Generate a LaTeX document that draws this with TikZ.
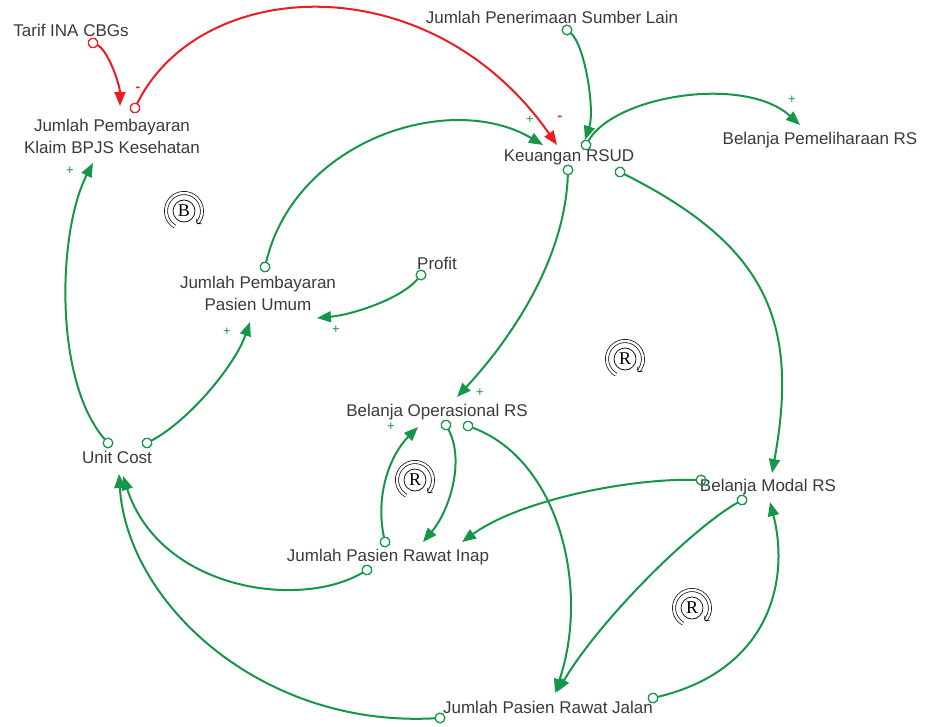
\documentclass[tikz,border=0pt]{standalone}
\usepackage{fontspec}
\setmainfont{Liberation Sans}
\newfontfamily\loopfont{Liberation Serif}
\usetikzlibrary{arrows.meta}

\definecolor{lgreen}{RGB}{22,150,72}
\definecolor{lred}{RGB}{236,28,36}
\definecolor{txt}{RGB}{58,58,62}

\tikzset{
  var/.style={font=\fontsize{17}{22}\selectfont, text=txt, inner sep=0pt, align=center},
  link/.style={line width=2pt, shorten <=-5.5pt,
    {Circle[open,length=11pt,width=11pt,line width=1.3pt]}-{Triangle[length=14pt,width=11pt]}},
  glink/.style={link, draw=lgreen},
  rlink/.style={link, draw=lred},
  polp/.style={font=\fontsize{13}{13}\selectfont, text=lgreen, inner sep=0pt},
  poln/.style={font=\bfseries\fontsize{14}{14}\selectfont, text=lred, inner sep=0pt},
  loopsign/.style={draw, circle, line width=0.7pt, inner sep=0pt, minimum size=22pt,
    font=\loopfont\fontsize{18}{18}\selectfont},
  looparc/.style={line width=0.7pt, double=white, double distance=2.4pt,
    -{Straight Barb[length=3pt,width=7pt]}}
}

\begin{document}
\begin{tikzpicture}[x=1pt,y=-1pt]
\useasboundingbox (0,0) rectangle (925,727);

% variables
\node[var] (tarif)  at (71,30)   {Tarif INA CBGs};
\node[var] (pen)    at (552,17)  {Jumlah Penerimaan Sumber Lain};
\node[var] (klaim)  at (112,136) {Jumlah Pembayaran\\Klaim BPJS Kesehatan};
\node[var] (keu)    at (569,157) {Keuangan RSUD};
\node[var] (pemel)  at (820,140) {Belanja Pemeliharaan RS};
\node[var] (umum)   at (258,293) {Jumlah Pembayaran\\Pasien Umum};
\node[var] (profit) at (437,263) {Profit};
\node[var] (ops)    at (437,412) {Belanja Operasional RS};
\node[var] (uc)     at (117,457) {Unit Cost};
\node[var] (modal)  at (768,487) {Belanja Modal RS};
\node[var] (inap)   at (388,557) {Jumlah Pasien Rawat Inap};
\node[var] (jalan)  at (548,707) {Jumlah Pasien Rawat Jalan};

% negative links
\draw[rlink] ([shift={(22,13)}]tarif.center) .. controls +(15,7) and +(0,-21) .. ([shift={(8,-30)}]klaim.center);
\draw[rlink] ([shift={(23,-28)}]klaim.center) .. controls +(65,-132) and +(-127,-182) .. ([shift={(-12,-12)}]keu.center);

% positive links
\draw[glink] ([shift={(15,13)}]pen.center) .. controls +(18,15) and +(10,-30) .. ([shift={(16,-17)}]keu.center);
\draw[glink] ([shift={(17,-12)}]keu.center) .. controls +(29,-50) and +(-55,-50) .. ([shift={(-20,-15)}]pemel.center);
\draw[glink] ([shift={(-1,13)}]keu.center) .. controls +(-3,90) and +(53,-57) .. ([shift={(20,-15)}]ops.center);
\draw[glink] ([shift={(51,15)}]keu.center) .. controls +(145,73) and +(28,-153) .. ([shift={(4,-14)}]modal.center);
\draw[glink] ([shift={(7,-26)}]umum.center) .. controls +(30,-127) and +(-93,-55) .. ([shift={(-26,-12)}]keu.center);
\draw[glink] ([shift={(-16,12)}]profit.center) .. controls +(-21,25) and +(33,-3) .. ([shift={(59,25)}]umum.center);
\draw[glink] ([shift={(30,-14)}]uc.center) .. controls +(43,-23) and +(-15,43) .. ([shift={(-8,29)}]umum.center);
\draw[glink] ([shift={(-9,-14)}]uc.center) .. controls +(-55,-63) and +(-35,67) .. ([shift={(-19,27)}]klaim.center);
\draw[glink] ([shift={(9,13)}]ops.center) .. controls +(19,35) and +(27,-32) .. ([shift={(35,-15)}]inap.center);
\draw[glink] ([shift={(-3,-15)}]inap.center) .. controls +(-10,-47) and +(-28,28) .. ([shift={(-19,15)}]ops.center);
\draw[glink] ([shift={(31,14)}]ops.center) .. controls +(92,34) and +(35,-103) .. ([shift={(7,-14)}]jalan.center);
\draw[glink] ([shift={(-67,-7)}]modal.center) .. controls +(-71,-2) and +(58,-42) .. ([shift={(74,-15)}]inap.center);
\draw[glink] ([shift={(-26,13)}]modal.center) .. controls +(-52,30) and +(43,-72) .. ([shift={(9,-15)}]jalan.center);
\draw[glink] ([shift={(105,-9)}]jalan.center) .. controls +(117,-28) and +(20,78) .. ([shift={(2,15)}]modal.center);
\draw[glink] ([shift={(-21,13)}]inap.center) .. controls +(-67,40) and +(37,114) .. ([shift={(6,19)}]uc.center);
\draw[glink] ([shift={(-108,11)}]jalan.center) .. controls +(-180,10) and +(8,128) .. ([shift={(2,17)}]uc.center);

% link polarities
\node[poln] (s1) at (138,89)  {-};
\node[poln] (s2) at (560,118) {-};
\node[polp] (s3) at (70,171)  {+};
\node[polp] (s4) at (530,120) {+};
\node[polp] (s5) at (792,100) {+};
\node[polp] (s6) at (227,332) {+};
\node[polp] (s7) at (336,330) {+};
\node[polp] (s8) at (480,393) {+};
\node[polp] (s9) at (391,427) {+};

% loop markers
\node[loopsign] (loopB)  at (184,211) {B};
\node[loopsign] (loopR1) at (625,359) {R};
\node[loopsign] (loopR2) at (415,480) {R};
\node[loopsign] (loopR3) at (692,608) {R};
\foreach \lp in {loopB,loopR1,loopR2,loopR3}{
  \draw[looparc] ([shift={(120:18)}]\lp.center) arc[start angle=120, end angle=405, radius=18];
}
\end{tikzpicture}
\end{document}
